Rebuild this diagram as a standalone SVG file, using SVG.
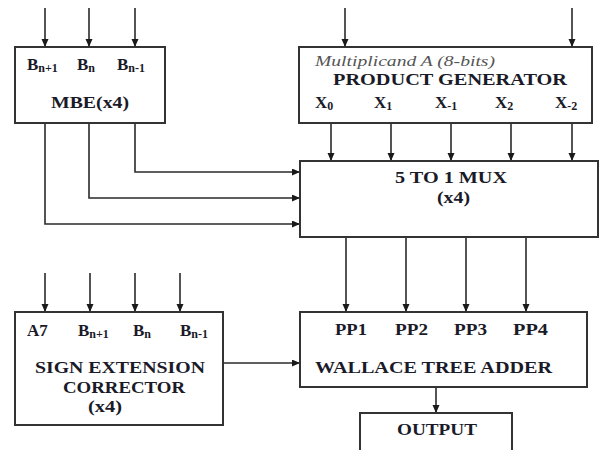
<svg xmlns="http://www.w3.org/2000/svg" width="603" height="450" viewBox="0 0 603 450">
<style>
.box{fill:#fff;stroke:#333;stroke-width:2}
.ln{fill:none;stroke:#2a2a2a;stroke-width:1.6}
.t{font-family:'Liberation Serif','Times New Roman',Times,serif;font-weight:700;fill:#1a1a28;font-size:17px}
.s{font-size:12px}
.it{font-family:'Liberation Serif','Times New Roman',Times,serif;font-style:italic;fill:#555;font-size:14px}
</style>
<defs>
<marker id="ah" markerUnits="userSpaceOnUse" markerWidth="9" markerHeight="8" refX="8" refY="3.5" orient="auto">
<path d="M0,0 L8,3.5 L0,7 z" fill="#1a1a1a"/>
</marker>
</defs>
<rect width="603" height="450" fill="#fff"/>
<g id="connectors">
<line class="ln" x1="45" y1="8" x2="45" y2="47" marker-end="url(#ah)"/>
<line class="ln" x1="89" y1="8" x2="89" y2="47" marker-end="url(#ah)"/>
<line class="ln" x1="135" y1="8" x2="135" y2="47" marker-end="url(#ah)"/>
<line class="ln" x1="345" y1="8" x2="345" y2="47" marker-end="url(#ah)"/>
<line class="ln" x1="572" y1="8" x2="572" y2="47" marker-end="url(#ah)"/>
<polyline class="ln" points="135,123 135,172 300,172" marker-end="url(#ah)"/>
<polyline class="ln" points="89,123 89,198 300,198" marker-end="url(#ah)"/>
<polyline class="ln" points="45,123 45,224 300,224" marker-end="url(#ah)"/>
<line class="ln" x1="331" y1="123" x2="331" y2="161" marker-end="url(#ah)"/>
<line class="ln" x1="391" y1="123" x2="391" y2="161" marker-end="url(#ah)"/>
<line class="ln" x1="451" y1="123" x2="451" y2="161" marker-end="url(#ah)"/>
<line class="ln" x1="511" y1="123" x2="511" y2="161" marker-end="url(#ah)"/>
<line class="ln" x1="572" y1="123" x2="572" y2="161" marker-end="url(#ah)"/>
<line class="ln" x1="346" y1="237" x2="346" y2="312" marker-end="url(#ah)"/>
<line class="ln" x1="406" y1="237" x2="406" y2="312" marker-end="url(#ah)"/>
<line class="ln" x1="466" y1="237" x2="466" y2="312" marker-end="url(#ah)"/>
<line class="ln" x1="526" y1="237" x2="526" y2="312" marker-end="url(#ah)"/>
<line class="ln" x1="45" y1="273" x2="45" y2="312" marker-end="url(#ah)"/>
<line class="ln" x1="90" y1="273" x2="90" y2="312" marker-end="url(#ah)"/>
<line class="ln" x1="135" y1="273" x2="135" y2="312" marker-end="url(#ah)"/>
<line class="ln" x1="180" y1="273" x2="180" y2="312" marker-end="url(#ah)"/>
<line class="ln" x1="223" y1="363" x2="300" y2="363" marker-end="url(#ah)"/>
<line class="ln" x1="436" y1="387" x2="436" y2="413" marker-end="url(#ah)"/>
</g>
<g id="mbe">
<rect class="box" x="15" y="47" width="150" height="76"/>
<text class="t" x="27" y="70">B<tspan class="s" dy="2">n+1</tspan></text>
<text class="t" x="77" y="70">B<tspan class="s" dy="2">n</tspan></text>
<text class="t" x="117" y="70">B<tspan class="s" dy="2">n-1</tspan></text>
<text class="t" x="51" y="108" textLength="78" lengthAdjust="spacingAndGlyphs">MBE(x4)</text>
</g>
<g id="product-generator">
<rect class="box" x="299" y="47" width="293" height="76"/>
<text class="it" x="315" y="66" textLength="180" lengthAdjust="spacingAndGlyphs">Multiplicand A (8-bits)</text>
<text class="t" x="333" y="85" textLength="234" lengthAdjust="spacingAndGlyphs">PRODUCT GENERATOR</text>
<text class="t" x="315" y="108">X<tspan class="s" dy="2">0</tspan></text>
<text class="t" x="374" y="108">X<tspan class="s" dy="2">1</tspan></text>
<text class="t" x="435" y="108">X<tspan class="s" dy="2">-1</tspan></text>
<text class="t" x="495" y="108">X<tspan class="s" dy="2">2</tspan></text>
<text class="t" x="555" y="108">X<tspan class="s" dy="2">-2</tspan></text>
</g>
<g id="mux">
<rect class="box" x="300" y="161" width="298" height="76"/>
<text class="t" x="395" y="183" textLength="112" lengthAdjust="spacingAndGlyphs">5 TO 1 MUX</text>
<text class="t" x="437" y="203" textLength="33" lengthAdjust="spacingAndGlyphs">(x4)</text>
</g>
<g id="sign-extension-corrector">
<rect class="box" x="15" y="312" width="208" height="113"/>
<text class="t" x="27" y="336" font-size="18">A7</text>
<text class="t" x="78" y="336" font-size="18">B<tspan class="s" font-size="12" dy="2">n+1</tspan></text>
<text class="t" x="133" y="336" font-size="18">B<tspan class="s" font-size="12" dy="2">n</tspan></text>
<text class="t" x="180" y="336" font-size="18">B<tspan class="s" font-size="12" dy="2">n-1</tspan></text>
<text class="t" x="35" y="373" font-size="19" textLength="170" lengthAdjust="spacingAndGlyphs">SIGN EXTENSION</text>
<text class="t" x="63" y="393" font-size="19" textLength="122" lengthAdjust="spacingAndGlyphs">CORRECTOR</text>
<text class="t" x="88" y="412" font-size="19" textLength="34" lengthAdjust="spacingAndGlyphs">(x4)</text>
</g>
<g id="wallace-tree-adder">
<rect class="box" x="300" y="312" width="287" height="75"/>
<text class="t" x="335" y="335" font-size="18" textLength="32" lengthAdjust="spacingAndGlyphs">PP1</text>
<text class="t" x="395" y="335" font-size="18" textLength="33" lengthAdjust="spacingAndGlyphs">PP2</text>
<text class="t" x="454" y="335" font-size="18" textLength="33" lengthAdjust="spacingAndGlyphs">PP3</text>
<text class="t" x="513" y="335" font-size="18" textLength="35" lengthAdjust="spacingAndGlyphs">PP4</text>
<text class="t" x="315" y="373" font-size="19" textLength="237" lengthAdjust="spacingAndGlyphs">WALLACE TREE ADDER</text>
</g>
<g id="output">
<rect class="box" x="360" y="413" width="152" height="50"/>
<text class="t" x="397" y="435" font-size="18" textLength="80" lengthAdjust="spacingAndGlyphs">OUTPUT</text>
</g>
</svg>
